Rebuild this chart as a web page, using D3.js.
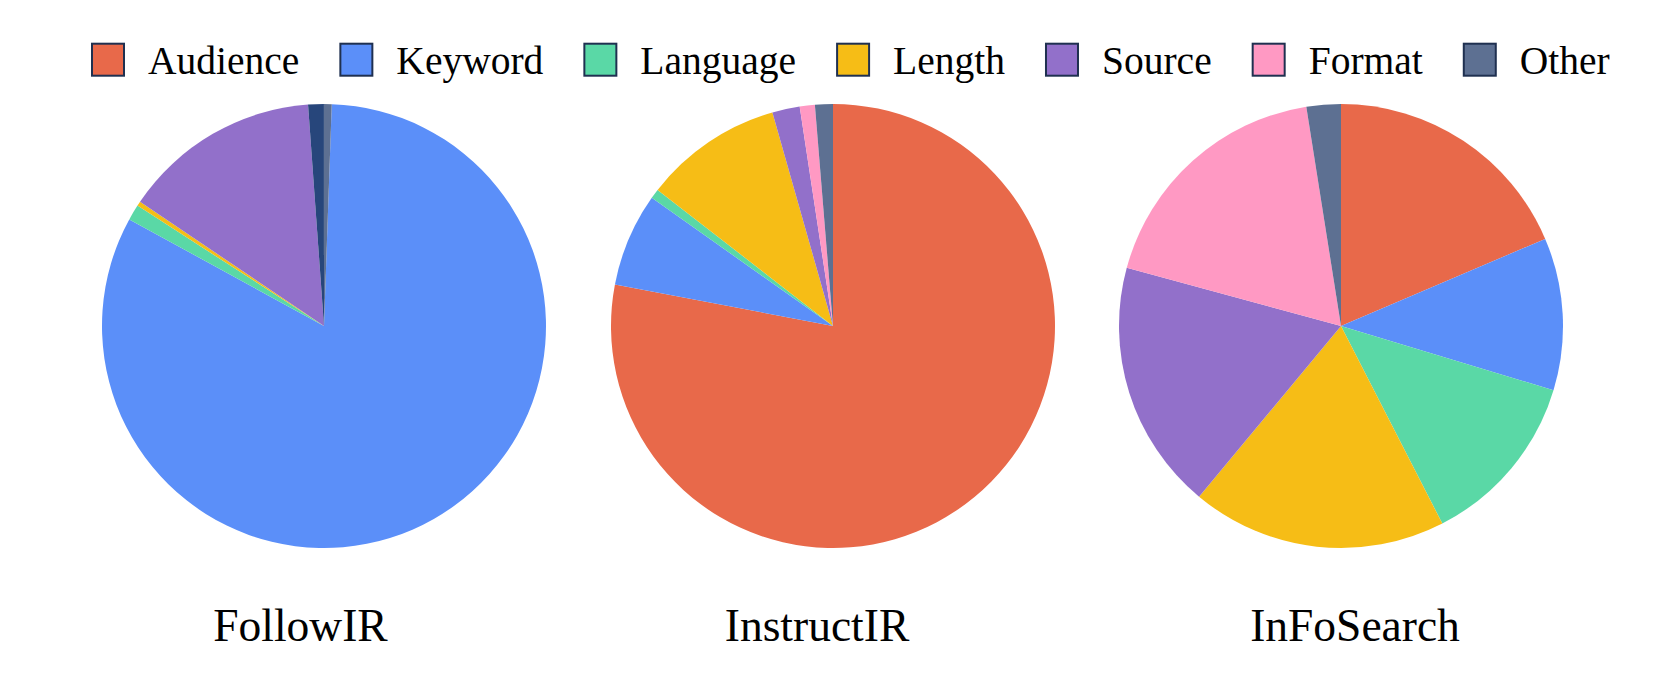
<!DOCTYPE html>
<html>
<head>
<meta charset="utf-8">
<script src="https://cdn.jsdelivr.net/npm/d3@7"></script>
<style>
  html, body { margin: 0; padding: 0; background: #ffffff; }
  svg { display: block; }
</style>
</head>
<body>
<svg id="chart" width="1661" height="700"></svg>
<script>
// ---- data ----
const categories = ["Audience", "Keyword", "Language", "Length", "Source", "Format", "Misc", "Other"];
const legendCategories = ["Audience", "Keyword", "Language", "Length", "Source", "Format", "Other"];
const datasets = ["FollowIR", "InstructIR", "InFoSearch"];
const followIR   = [0,    82.4, 1.15, 0.33, 14.4, 0,    1.14, 0.56];
const instructIR = [78.0, 6.8,  0.7,  10.1, 2.0,  1.1,  0,    1.3];
const inFoSearch = [18.6, 11.1, 12.8, 18.6, 18.2, 18.3, 0,    2.5];
const seriesValues = [followIR, instructIR, inFoSearch];

// ---- style / layout ----
const colors = ["#E8694A", "#5B8FF9", "#5AD8A6", "#F6BD16", "#9270CA", "#FF99C3", "#27467B", "#5D7092"];
const rotationsDeg = [2, 0, 0];
const pieCentersX = [324, 833, 1341];
const pieCenterY = 326;
const radius = 222;
const titleX = [300.5, 817, 1355];
const titleBaseline = 641;
const fontFamily = "'Liberation Serif', 'Times New Roman', serif";

const svg = d3.select("#chart");
const color = d3.scaleOrdinal().domain(categories).range(colors);
const arc = d3.arc().innerRadius(0).outerRadius(radius);

datasets.forEach((name, i) => {
  const rot = rotationsDeg[i] * Math.PI / 180;
  const pie = d3.pie().sort(null).value(d => d.value)
    .startAngle(rot).endAngle(rot + 2 * Math.PI);
  const data = categories.map((c, k) => ({ cat: c, value: seriesValues[i][k] }));
  const g = svg.append("g").attr("transform", `translate(${pieCentersX[i]},${pieCenterY})`);
  g.selectAll("path")
    .data(pie(data).filter(d => d.data.value > 0))
    .join("path")
    .attr("d", arc)
    .attr("fill", d => color(d.data.cat));

  svg.append("text")
    .attr("x", titleX[i])
    .attr("y", titleBaseline)
    .attr("text-anchor", "middle")
    .attr("font-family", fontFamily)
    .attr("font-size", 45.5)
    .attr("fill", "#000")
    .text(name);
});

// ---- legend ----
const legend = svg.append("g");
const swatch = 34, swGap = 23, itemGap = 40, legendFont = 39.5;
let x = 91;
const swTop = 42.7, textBase = 74;
legendCategories.forEach(c => {
  legend.append("rect")
    .attr("x", x + 1).attr("y", swTop + 1)
    .attr("width", swatch - 2).attr("height", swatch - 2)
    .attr("fill", color(c))
    .attr("stroke", "#1F3050").attr("stroke-width", 2);
  const t = legend.append("text")
    .attr("x", x + swatch + swGap)
    .attr("y", textBase)
    .attr("font-family", fontFamily)
    .attr("font-size", legendFont)
    .attr("fill", "#000")
    .text(c);
  const w = t.node().getComputedTextLength();
  x = x + swatch + swGap + w + itemGap;
});
</script>
</body>
</html>
